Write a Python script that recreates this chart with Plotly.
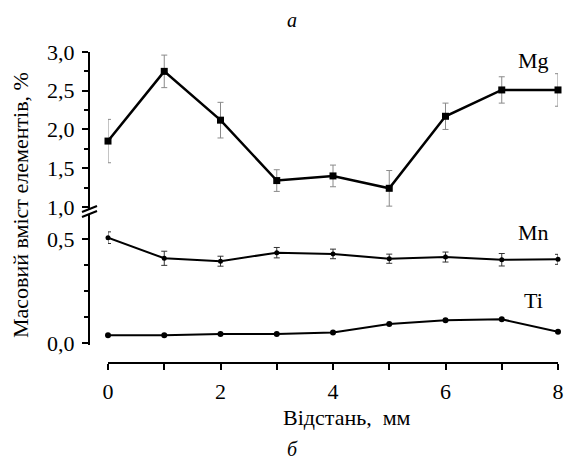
import plotly.graph_objects as go

distance = [0, 1, 2, 3, 4, 5, 6, 7, 8]
mg = [1.85, 2.75, 2.12, 1.34, 1.40, 1.24, 2.17, 2.51, 2.51]
mg_err = [0.28, 0.21, 0.23, 0.14, 0.14, 0.23, 0.17, 0.17, 0.21]
mn = [0.506, 0.407, 0.393, 0.434, 0.428, 0.405, 0.413, 0.400, 0.402]
mn_err = [0.028, 0.034, 0.024, 0.025, 0.023, 0.022, 0.024, 0.030, 0.024]
ti = [0.037, 0.037, 0.043, 0.043, 0.051, 0.091, 0.109, 0.114, 0.054]

upper_ticks = [1.0, 1.5, 2.0, 2.5, 3.0]
lower_ticks = [0.0, 0.5]
x_ticks = [0, 2, 4, 6, 8]

FONT = "Liberation Serif"
FS = 22
L, R, T, B = 89, 6, 52, 96
W, H = 564, 459
PW = W - L - R
PH = H - T - B

fig = go.Figure()
fig.add_trace(go.Scatter(
    x=distance, y=mg, xaxis="x", yaxis="y", mode="lines+markers",
    line=dict(color="black", width=2.5),
    marker=dict(symbol="square", size=7, color="black"),
    error_y=dict(type="data", array=mg_err, color="#8a8a8a", thickness=1, width=3),
    cliponaxis=False, showlegend=False))
fig.add_trace(go.Scatter(
    x=distance, y=mn, xaxis="x", yaxis="y2", mode="lines+markers",
    line=dict(color="black", width=2),
    marker=dict(symbol="circle", size=5, color="black"),
    error_y=dict(type="data", array=mn_err, color="#333333", thickness=1, width=3),
    cliponaxis=False, showlegend=False))
fig.add_trace(go.Scatter(
    x=distance, y=ti, xaxis="x", yaxis="y2", mode="lines+markers",
    line=dict(color="black", width=2),
    marker=dict(symbol="circle", size=6, color="black"),
    cliponaxis=False, showlegend=False))


def px_x(p):
    return (p - L) / PW


def px_y(p):
    return (H - B - p) / PH


def axis_style():
    return dict(showgrid=False, zeroline=False, showline=True, linecolor="black",
                linewidth=2, ticks="outside", ticklen=6, tickwidth=2, tickcolor="black",
                automargin=False, ticklabelstandoff=3, ticklabeloverflow="allow",
                tickfont=dict(family=FONT, size=FS, color="black"))


fig.update_layout(
    width=W, height=H,
    margin=dict(l=L, r=R, t=T, b=B),
    paper_bgcolor="white", plot_bgcolor="white",
    separators=", ",
    font=dict(family=FONT, size=FS, color="black"),
    xaxis=dict(**axis_style(), domain=[px_x(108), 1], anchor="free", position=0,
               range=[0, 8], tickvals=x_ticks,
               minor=dict(tickvals=[1, 3, 5, 7], ticklen=6, tickwidth=2, tickcolor="black", ticks="outside")),
    yaxis=dict(**axis_style(), domain=[px_y(210), 1], anchor="free", position=0,
               range=[0.96, 3.0], tickvals=upper_ticks, tickformat=".1f",
               minor=dict(tickvals=[1.25, 1.75, 2.25, 2.75], ticklen=4, tickwidth=2, tickcolor="black", ticks="outside")),
    yaxis2=dict(**axis_style(), domain=[px_y(345), px_y(215)], anchor="free", position=0,
                range=[-0.0096, 0.615], tickvals=lower_ticks, tickformat=".1f",
                minor=dict(tickvals=[0.125, 0.25, 0.375], ticklen=4, tickwidth=2, tickcolor="black", ticks="outside")),
)


def ann(text, x, y, xref="paper", yref="paper", size=FS, angle=0):
    return dict(text=text, x=x, y=y, xref=xref, yref=yref, xanchor="center", yanchor="middle",
                textangle=angle, showarrow=False, font=dict(family=FONT, size=size, color="black"))


annotations = [
    ann("Масовий вміст елементів, %", px_x(20), px_y(205), angle=-90),
    ann("Відстань,  мм", px_x(347), px_y(417)),
    ann("Mg", 7.56, 2.884, "x", "y"),
    ann("Mn", 7.56, 0.529, "x", "y2"),
    ann("Ti", 7.56, 0.202, "x", "y2"),
    ann("<i>а</i>", px_x(292), px_y(20), size=20),
    ann("<i>б</i>", px_x(292), px_y(449), size=20),
]
fig.update_layout(annotations=annotations)

# axis break marks
for dy in [0, 5]:
    fig.add_shape(type="line", xref="paper", yref="paper",
                  x0=px_x(82), x1=px_x(97),
                  y0=px_y(217 - dy), y1=px_y(211 - dy),
                  line=dict(color="black", width=2))

fig.write_html("out.html", post_script="document.body.style.margin='0';",
               config={"displayModeBar": False})
